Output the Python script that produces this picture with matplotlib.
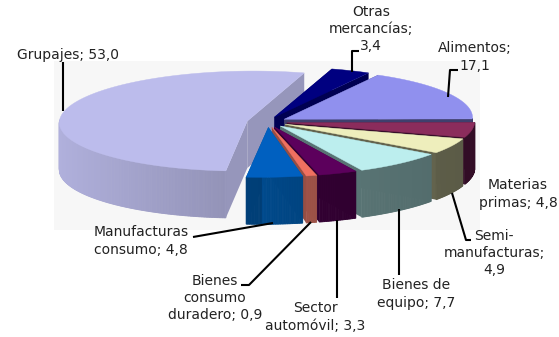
import numpy as np
import matplotlib
matplotlib.use("Agg")
from matplotlib import pyplot as plt
from matplotlib.patches import Polygon, Rectangle
from matplotlib.colors import to_rgb

# data
categories = ["Alimentos", "Materias primas", "Semi-manufacturas", "Bienes de equipo", "Sector automóvil",
              "Bienes consumo duradero", "Manufacturas consumo", "Grupajes", "Otras mercancías"]
values = [17.1, 4.8, 4.9, 7.7, 3.3, 0.9, 4.8, 53.0, 3.4]
top_colors = ["#9090EE", "#8B2C5C", "#EEEEBC", "#BCEEEE", "#5C005C", "#F07060", "#0060C0", "#BCBCEC", "#000080"]
wall_colors = ["#4A4A80", "#401030", "#74745A", "#688888", "#380038", "#B05C50", "#004C90", "#B0B0DC", "#000060"]
label_texts = ["Alimentos;\n17,1", "Materias\nprimas; 4,8", "Semi-\nmanufacturas;\n4,9", "Bienes de\nequipo; 7,7",
               "Sector\nautomóvil; 3,3", "Bienes\nconsumo\nduradero; 0,9", "Manufacturas\nconsumo; 4,8",
               "Grupajes; 53,0", "Otras\nmercancías;\n3,4"]

# pie geometry in pixels
cx, cy = 267, 122
rx, ry = 188, 50
depth = 47
explode = 20
shear = 0.12
start_angle = 62
draw_order = [7, 8, 0, 1, 2, 3, 4, 5, 6]

label_pos = [(475, 57), (518, 194), (494, 253), (416, 294), (315, 317), (215, 298), (141, 241), (68, 55), (371, 29)]
leaders = [
    [(458, 70), (450, 70), (448, 97)],
    [(452, 193), (466, 240), (471, 240)],
    [(399, 209), (399, 275)],
    [(337, 220), (337, 298)],
    [(311, 222), (249, 285), (241, 285)],
    [(273, 223), (193, 237)],
    [(63, 62), (63, 111)],
    [(352, 72), (352, 51), (359, 51)],
]


def shade(col, f):
    return tuple(min(1, c * f) for c in to_rgb(col))


def draw_slice(ax, a0, a1, top, wall):
    # a0 > a1, going clockwise, angles in degrees
    mid = np.radians((a0 + a1) / 2)
    ox = cx + explode * np.cos(mid)
    oy = cy - explode * ry / rx * np.sin(mid)
    t = np.radians(np.linspace(a0, a1, max(int(a0 - a1) * 2, 3)))
    ys = oy - ry * np.sin(t)
    xs = ox + rx * np.cos(t) - shear * (ys - cy)

    # radial walls
    for x, y in [(xs[0], ys[0]), (xs[-1], ys[-1])]:
        ax.add_patch(Polygon([(ox, oy), (x, y), (x, y + depth), (ox, oy + depth)],
                             fc=shade(wall, 0.85), ec="none", zorder=2))
    # outer wall, only the part that faces the viewer
    for i in range(len(t) - 1):
        if np.sin(t[i]) < 0.02 or np.sin(t[i + 1]) < 0.02:
            c = np.cos(t[i])
            f = 1.0 - 0.22 * abs(c) ** 0.5 * (c > 0) - 0.18 * (c < 0) * (1 - abs(c))
            col = shade(wall, f)
            ax.add_patch(Polygon([(xs[i], ys[i]), (xs[i + 1], ys[i + 1]), (xs[i + 1], ys[i + 1] + depth), (xs[i], ys[i] + depth)],
                                 fc=col, ec=col, lw=0.6, zorder=2))
    ax.add_patch(Polygon(np.column_stack([np.r_[ox, xs], np.r_[oy, ys]]), fc=top, ec=top, lw=0.3, zorder=2))


fig = plt.figure(figsize=(5.59, 3.37), dpi=100)
ax = fig.add_axes([0, 0, 1, 1])
ax.set_xlim(0, 559)
ax.set_ylim(337, 0)
ax.axis("off")
ax.add_patch(Rectangle((54, 61), 426, 169, fc="#F7F7F7", ec="none", zorder=0))

# angles come from the values
angles = np.array(values) / sum(values) * 360
ends = start_angle - np.cumsum(angles)
starts = ends + angles

for i in draw_order:
    draw_slice(ax, starts[i], ends[i], top_colors[i], wall_colors[i])

for pts in leaders:
    pts = np.array(pts)
    ax.plot(pts[:, 0], pts[:, 1], color="black", lw=1.5, zorder=3, solid_capstyle="butt")

for txt, (x, y) in zip(label_texts, label_pos):
    ax.text(x, y, txt, ha="center", va="center", fontsize=10, color="#222222", family="DejaVu Sans",
            linespacing=1.3, zorder=4)

fig.savefig("out.png", dpi=100)
